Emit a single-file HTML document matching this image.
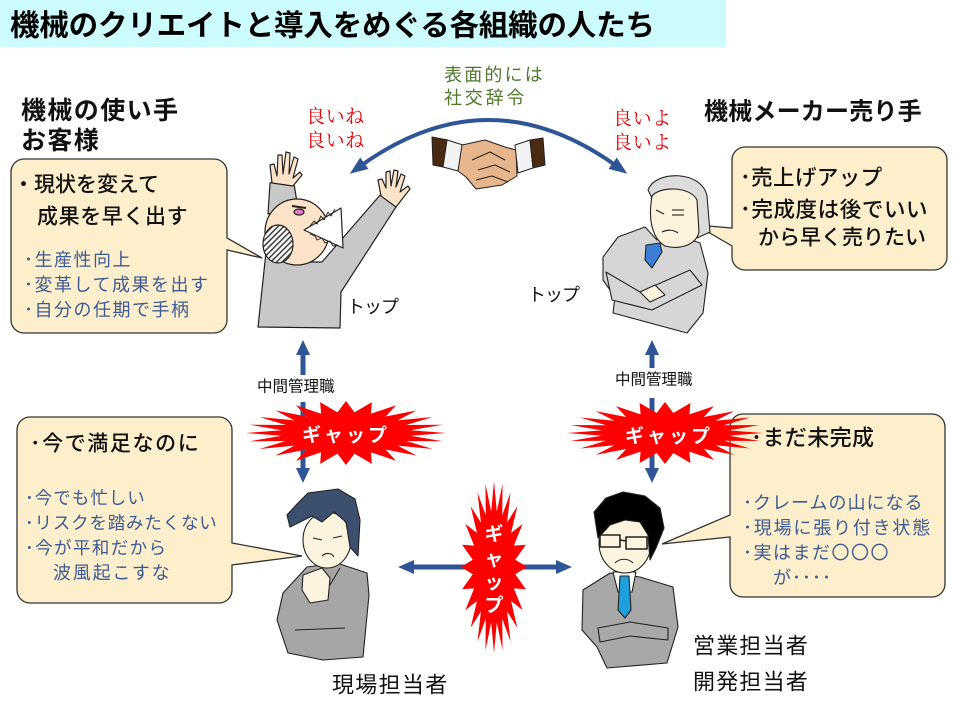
<!DOCTYPE html>
<html><head><meta charset="utf-8"><style>
html,body{margin:0;padding:0;background:#fff;}
svg{display:block;}
text{font-family:"Liberation Sans","Noto Sans CJK JP",sans-serif;dominant-baseline:central;}
.serif{font-family:"Liberation Serif","Noto Serif CJK SC",serif;}
</style></head><body>
<svg width="960" height="720" viewBox="0 0 960 720" xmlns="http://www.w3.org/2000/svg">
<defs>
<marker id="ah" markerUnits="userSpaceOnUse" markerWidth="18" markerHeight="14" viewBox="0 0 18 14" refX="6" refY="7" orient="auto-start-reverse"><path d="M0,0 L18,7 L0,14 Z" fill="#2f5597"/></marker>
<pattern id="hatch" patternUnits="userSpaceOnUse" width="4" height="4" patternTransform="rotate(45)"><rect width="4" height="4" fill="#fff"/><rect width="1.6" height="4" fill="#444"/></pattern>
</defs>
<rect width="960" height="720" fill="#fff"/>
<!-- title -->
<rect x="0" y="0" width="726" height="47" fill="#ccfcfc"/>
<text x="10" y="26" font-size="29.5" font-weight="700" textLength="645" lengthAdjust="spacing" fill="#000">機械のクリエイトと導入をめぐる各組織の人たち</text>

<!-- headers -->
<text x="21" y="111" font-size="25" font-weight="700" letter-spacing="1.4" fill="#111">機械の使い手</text>
<text x="21" y="141" font-size="25" font-weight="700" letter-spacing="1.4" fill="#111">お客様</text>
<text x="704" y="112" font-size="24" font-weight="700" letter-spacing="0.2" fill="#111">機械メーカー売り手</text>

<!-- red & green -->
<text class="serif" x="306" y="117" font-size="19" letter-spacing="0.6" fill="#e00000">良いね</text>
<text class="serif" x="306" y="141" font-size="19" letter-spacing="0.6" fill="#e00000">良いね</text>
<text class="serif" x="613" y="119" font-size="19" letter-spacing="0.6" fill="#e00000">良いよ</text>
<text class="serif" x="613" y="143" font-size="19" letter-spacing="0.6" fill="#e00000">良いよ</text>
<text x="444" y="75" font-size="18" letter-spacing="2.2" fill="#4f7a2e">表面的には</text>
<text x="444" y="98" font-size="18" letter-spacing="2.8" fill="#4f7a2e">社交辞令</text>

<!-- top arc -->
<path d="M359.5,166.7 Q488.5,73.3 617.5,166.7" fill="none" stroke="#2f5597" stroke-width="4" marker-start="url(#ah)" marker-end="url(#ah)"/>

<!-- handshake -->
<g stroke="#222" stroke-width="1" stroke-linejoin="round">
<polygon fill="#4a2a10" points="432,137 448,140 443,167 433,165"/>
<polygon fill="#f2f2f2" points="447,140 463,145 458,171 443,167"/>
<path fill="#e8b68c" d="M462,145 L485,140 L505,147 L516,150 L517,176 L502,185 L476,189 L466,177 L458,171 Z"/>
<polyline fill="none" points="472,160 490,152 505,160"/>
<polyline fill="none" points="478,170 495,165 510,172"/>
<polyline fill="none" points="476,180 492,176 508,182"/>
<polygon fill="#f2f2f2" points="515,145 530,140 533,168 518,173"/>
<polygon fill="#4a2a10" points="530,140 543,138 545,165 533,168"/>
</g>

<!-- callouts -->
<path d="M24,159 H214 A13,13 0 0 1 227,172 V238 L262,258 L227,250 V320 A13,13 0 0 1 214,333 H24 A13,13 0 0 1 11,320 V172 A13,13 0 0 1 24,159 Z" fill="#fdefcb" stroke="#333" stroke-width="1.3"/>
<path d="M745,147 H934 A13,13 0 0 1 947,160 V257 A13,13 0 0 1 934,270 H745 A13,13 0 0 1 732,257 V246 L696,225 L732,228 V160 A13,13 0 0 1 745,147 Z" fill="#fdefcb" stroke="#333" stroke-width="1.3"/>
<path d="M30,417 H219 A13,13 0 0 1 232,430 V543 L302,556 L232,565 V590 A13,13 0 0 1 219,603 H30 A13,13 0 0 1 17,590 V430 A13,13 0 0 1 30,417 Z" fill="#fdefcb" stroke="#333" stroke-width="1.3"/>
<path d="M743,414 H932 A13,13 0 0 1 945,427 V584 A13,13 0 0 1 932,597 H743 A13,13 0 0 1 730,584 V537 L662,544 L730,515 V427 A13,13 0 0 1 743,414 Z" fill="#fdefcb" stroke="#333" stroke-width="1.3"/>

<!-- callout text: top-left -->
<text x="13" y="185" font-size="21" font-weight="500" fill="#111">・現状を変えて</text>
<text x="37" y="217" font-size="21" font-weight="500" letter-spacing="0.6" fill="#111">成果を早く出す</text>
<text x="24" y="260" font-size="18" letter-spacing="1.5" fill="#3d5a94">･生産性向上</text>
<text x="24" y="285" font-size="18" letter-spacing="1.5" fill="#3d5a94">･変革して成果を出す</text>
<text x="24" y="310" font-size="18" letter-spacing="1.5" fill="#3d5a94">･自分の任期で手柄</text>

<!-- top-right -->
<text x="740" y="178" font-size="21.5" font-weight="500" letter-spacing="0.4" fill="#111">･売上げアップ</text>
<text x="740" y="210" font-size="21.5" font-weight="500" letter-spacing="0.6" fill="#111">･完成度は後でいい</text>
<text x="758" y="238" font-size="21" font-weight="500" fill="#111">から早く売りたい</text>

<!-- bottom-left -->
<text x="30" y="444" font-size="21" font-weight="500" letter-spacing="1.6" fill="#111">･今で満足なのに</text>
<text x="25" y="498" font-size="17.5" letter-spacing="1" fill="#3d5a94">･今でも忙しい</text>
<text x="25" y="523" font-size="17.5" letter-spacing="0.8" fill="#3d5a94">･リスクを踏みたくない</text>
<text x="25" y="548" font-size="17.5" letter-spacing="1.4" fill="#3d5a94">･今が平和だから</text>
<text x="53" y="573" font-size="18" letter-spacing="1.8" fill="#3d5a94">波風起こすな</text>

<!-- bottom-right -->
<text x="751" y="438" font-size="22" font-weight="500" letter-spacing="0.4" fill="#111">･まだ未完成</text>
<text x="743" y="503" font-size="18" letter-spacing="1" fill="#3d5a94">･クレームの山になる</text>
<text x="743" y="528" font-size="18" letter-spacing="1.8" fill="#3d5a94">･現場に張り付き状態</text>
<text x="743" y="553" font-size="18" letter-spacing="1.5" fill="#3d5a94">･実はまだ〇〇〇</text>
<text x="773" y="578" font-size="18" letter-spacing="1" fill="#3d5a94">が････</text>

<!-- straight arrows -->
<g fill="#2f5597">
<rect x="300.5" y="354" width="5" height="21"/><polygon points="303,340 296,355 310,355"/>
<rect x="300.5" y="402" width="5" height="67"/><polygon points="296,468 310,468 303,483"/>
<rect x="649.5" y="354" width="5" height="14"/><polygon points="652,340 645,355 659,355"/>
<rect x="649.5" y="398" width="5" height="71"/><polygon points="645,468 659,468 652,483"/>
<rect x="413" y="564.5" width="144" height="5"/><polygon points="398,567 414,560 414,574"/><polygon points="572,567 556,560 556,574"/>
</g>
<text x="257" y="387" font-size="15.5" fill="#111">中間管理職</text>
<text x="615" y="380" font-size="15.5" fill="#111">中間管理職</text>

<!-- bursts -->
<polygon fill="#ff0000" transform="translate(346,433) scale(1.0,0.32)" points="100,0 64.4,8.5 96.6,25.9 60.1,24.9 86.6,50 51.6,39.6 70.7,70.7 39.6,51.6 50,86.6 24.9,60.1 25.9,96.6 8.5,64.4 0,100 -8.5,64.4 -25.9,96.6 -24.9,60.1 -50,86.6 -39.6,51.6 -70.7,70.7 -51.6,39.6 -86.6,50 -60.1,24.9 -96.6,25.9 -64.4,8.5 -100,0 -64.4,-8.5 -96.6,-25.9 -60.1,-24.9 -86.6,-50 -51.6,-39.6 -70.7,-70.7 -39.6,-51.6 -50,-86.6 -24.9,-60.1 -25.9,-96.6 -8.5,-64.4 0,-100 8.5,-64.4 25.9,-96.6 24.9,-60.1 50,-86.6 39.6,-51.6 70.7,-70.7 51.6,-39.6 86.6,-50 60.1,-24.9 96.6,-25.9 64.4,-8.5"/>
<polygon fill="#ff0000" transform="translate(665,433) scale(0.98,0.31)" points="100,0 64.4,8.5 96.6,25.9 60.1,24.9 86.6,50 51.6,39.6 70.7,70.7 39.6,51.6 50,86.6 24.9,60.1 25.9,96.6 8.5,64.4 0,100 -8.5,64.4 -25.9,96.6 -24.9,60.1 -50,86.6 -39.6,51.6 -70.7,70.7 -51.6,39.6 -86.6,50 -60.1,24.9 -96.6,25.9 -64.4,8.5 -100,0 -64.4,-8.5 -96.6,-25.9 -60.1,-24.9 -86.6,-50 -51.6,-39.6 -70.7,-70.7 -39.6,-51.6 -50,-86.6 -24.9,-60.1 -25.9,-96.6 -8.5,-64.4 0,-100 8.5,-64.4 25.9,-96.6 24.9,-60.1 50,-86.6 39.6,-51.6 70.7,-70.7 51.6,-39.6 86.6,-50 60.1,-24.9 96.6,-25.9 64.4,-8.5"/>
<polygon fill="#ff0000" transform="translate(494,567) scale(0.33,0.86)" points="100,0 64.4,8.5 96.6,25.9 60.1,24.9 86.6,50 51.6,39.6 70.7,70.7 39.6,51.6 50,86.6 24.9,60.1 25.9,96.6 8.5,64.4 0,100 -8.5,64.4 -25.9,96.6 -24.9,60.1 -50,86.6 -39.6,51.6 -70.7,70.7 -51.6,39.6 -86.6,50 -60.1,24.9 -96.6,25.9 -64.4,8.5 -100,0 -64.4,-8.5 -96.6,-25.9 -60.1,-24.9 -86.6,-50 -51.6,-39.6 -70.7,-70.7 -39.6,-51.6 -50,-86.6 -24.9,-60.1 -25.9,-96.6 -8.5,-64.4 0,-100 8.5,-64.4 25.9,-96.6 24.9,-60.1 50,-86.6 39.6,-51.6 70.7,-70.7 51.6,-39.6 86.6,-50 60.1,-24.9 96.6,-25.9 64.4,-8.5"/>
<text x="346" y="436" font-size="19" font-weight="700" letter-spacing="3" text-anchor="middle" fill="#fff">ギャップ</text>
<text x="669" y="437" font-size="19" font-weight="700" letter-spacing="3" text-anchor="middle" fill="#fff">ギャップ</text>
<g font-size="19" font-weight="700" fill="#fff" text-anchor="middle">
<text x="494" y="535">ギ</text><text x="494" y="560">ャ</text><text x="494" y="583">ッ</text><text x="494" y="606">プ</text>
</g>

<!-- top-left person -->
<g stroke="#222" stroke-width="1.2" stroke-linejoin="round">
<polygon fill="#c8c8c8" points="270,183 293,178 298,208 268,214"/>
<polygon fill="#c8c8c8" points="266,252 258,327 340,328 341,292 396,207 381,194 322,262 300,262"/>
<path fill="#fde3c8" d="M381,196 L378,180 L382,179 L386,188 L386,172 L390,171 L391,186 L394,170 L398,171 L396,187 L401,174 L405,176 L400,192 L408,186 L410,189 L396,207 Z"/>
<path fill="#fde3c8" d="M272,183 L270,165 L274,164 L277,176 L278,155 L282,155 L283,174 L286,152 L290,153 L289,174 L294,157 L298,159 L293,178 L300,172 L302,175 L293,186 Z"/>
<ellipse fill="#fde3c8" cx="297" cy="232" rx="32" ry="33"/>
<polygon fill="#fff" points="304,230 341,208 343,248"/>
<polyline fill="none" stroke-width="0.9" points="310,226 314,221 317,224 321,216 324,220 328,212 331,216 335,209"/>
<polyline fill="none" stroke-width="0.9" points="310,234 315,236 317,240 322,238 325,243 330,241 333,246 338,245"/>
<ellipse fill="url(#hatch)" cx="278" cy="244" rx="15" ry="19"/>
<ellipse fill="#e878c8" cx="299" cy="212" rx="5" ry="3"/>
<line x1="292" y1="206" x2="306" y2="208" stroke-width="2"/>
</g>
<text x="347" y="307" font-size="18" letter-spacing="-1" fill="#111">トップ</text>

<!-- top-right person -->
<g stroke="#222" stroke-width="1.1" stroke-linejoin="round">
<polygon fill="#d6d6d6" points="603,257 618,237 645,227 657,240 683,237 700,243 708,273 703,313 687,333 613,313 615,297 603,280"/>
<polygon fill="#3a7fd5" points="646,245 660,243 662,252 652,268 645,260"/>
<path fill="#d6d6d6" d="M606,272 L640,292 L690,270 L702,285 L652,310 L612,300 Z"/>
<path fill="#fdf3dc" d="M640,292 L655,285 L665,295 L650,302 Z"/>
<path fill="#dcdcdc" d="M648,190 C655,170 702,170 707,196 L710,232 L697,238 L696,200 C688,190 662,188 652,198 Z"/>
<path fill="#fdf3dc" d="M652,196 C660,186 690,186 697,200 L699,232 C696,245 680,250 665,246 C655,240 647,225 652,196 Z"/>
<line x1="672" y1="210" x2="684" y2="210"/><line x1="672" y1="215" x2="684" y2="215"/>
<path fill="none" d="M656,210 L664,214"/>
<path fill="none" d="M662,232 C668,229 674,230 678,233"/>
</g>
<text x="528" y="295" font-size="18" letter-spacing="-1" fill="#111">トップ</text>

<!-- bottom-left person -->
<g stroke="#222" stroke-width="1.1" stroke-linejoin="round">
<polygon fill="#a6a6a6" points="283,593 307,567 337,563 367,573 369,595 363,657 323,660 288,653 277,620"/>
<path fill="none" d="M295,630 L345,628 M320,570 L330,585 L340,568"/>
<ellipse fill="#fdf4e0" cx="327" cy="540" rx="24" ry="28"/>
<path fill="#3d4f6e" d="M287,515 L298,503 L308,493 L338,489 L355,499 L360,520 L358,556 L350,547 L346,522 L334,512 L322,522 L312,516 L300,522 L290,527 Z"/>
<path fill="none" d="M313,538 L322,540 M333,538 L342,536 M322,556 C326,552 332,553 334,557"/>
<path fill="#fdf4e0" d="M303,575 L322,568 L330,578 L328,600 L310,603 L302,590 Z"/>
</g>
<text x="332" y="685" font-size="22" letter-spacing="1.3" fill="#111">現場担当者</text>

<!-- bottom-right person -->
<g stroke="#222" stroke-width="1.1" stroke-linejoin="round">
<polygon fill="#a8a8a8" points="583,590 610,573 640,577 673,587 678,627 667,663 607,668 597,647 582,630"/>
<polygon fill="#fff" points="613,572 636,572 632,592 618,592"/>
<polygon fill="#1ea0dc" points="620,576 629,576 631,610 625,618 618,610"/>
<path fill="#a8a8a8" d="M598,628 L630,622 L668,628 L668,640 L630,636 L600,642 Z"/>
<ellipse fill="#fdf4e0" cx="625" cy="543" rx="26" ry="30"/>
<path fill="#000" d="M594,512 L606,498 L623,492 L645,496 L660,508 L664,528 L656,548 L650,560 L648,535 L640,522 L625,520 L610,525 L598,538 Z"/>
<g fill="none" stroke-width="1.6"><rect x="600" y="535" width="20" height="12"/><rect x="626" y="537" width="21" height="12"/><line x1="620" y1="540" x2="626" y2="541"/></g>
<path fill="none" d="M615,563 C620,558 628,558 633,563"/>
</g>
<text x="693" y="646" font-size="22" letter-spacing="1.2" fill="#111">営業担当者</text>
<text x="693" y="682" font-size="22" letter-spacing="1.2" fill="#111">開発担当者</text>
</svg>
</body></html>
